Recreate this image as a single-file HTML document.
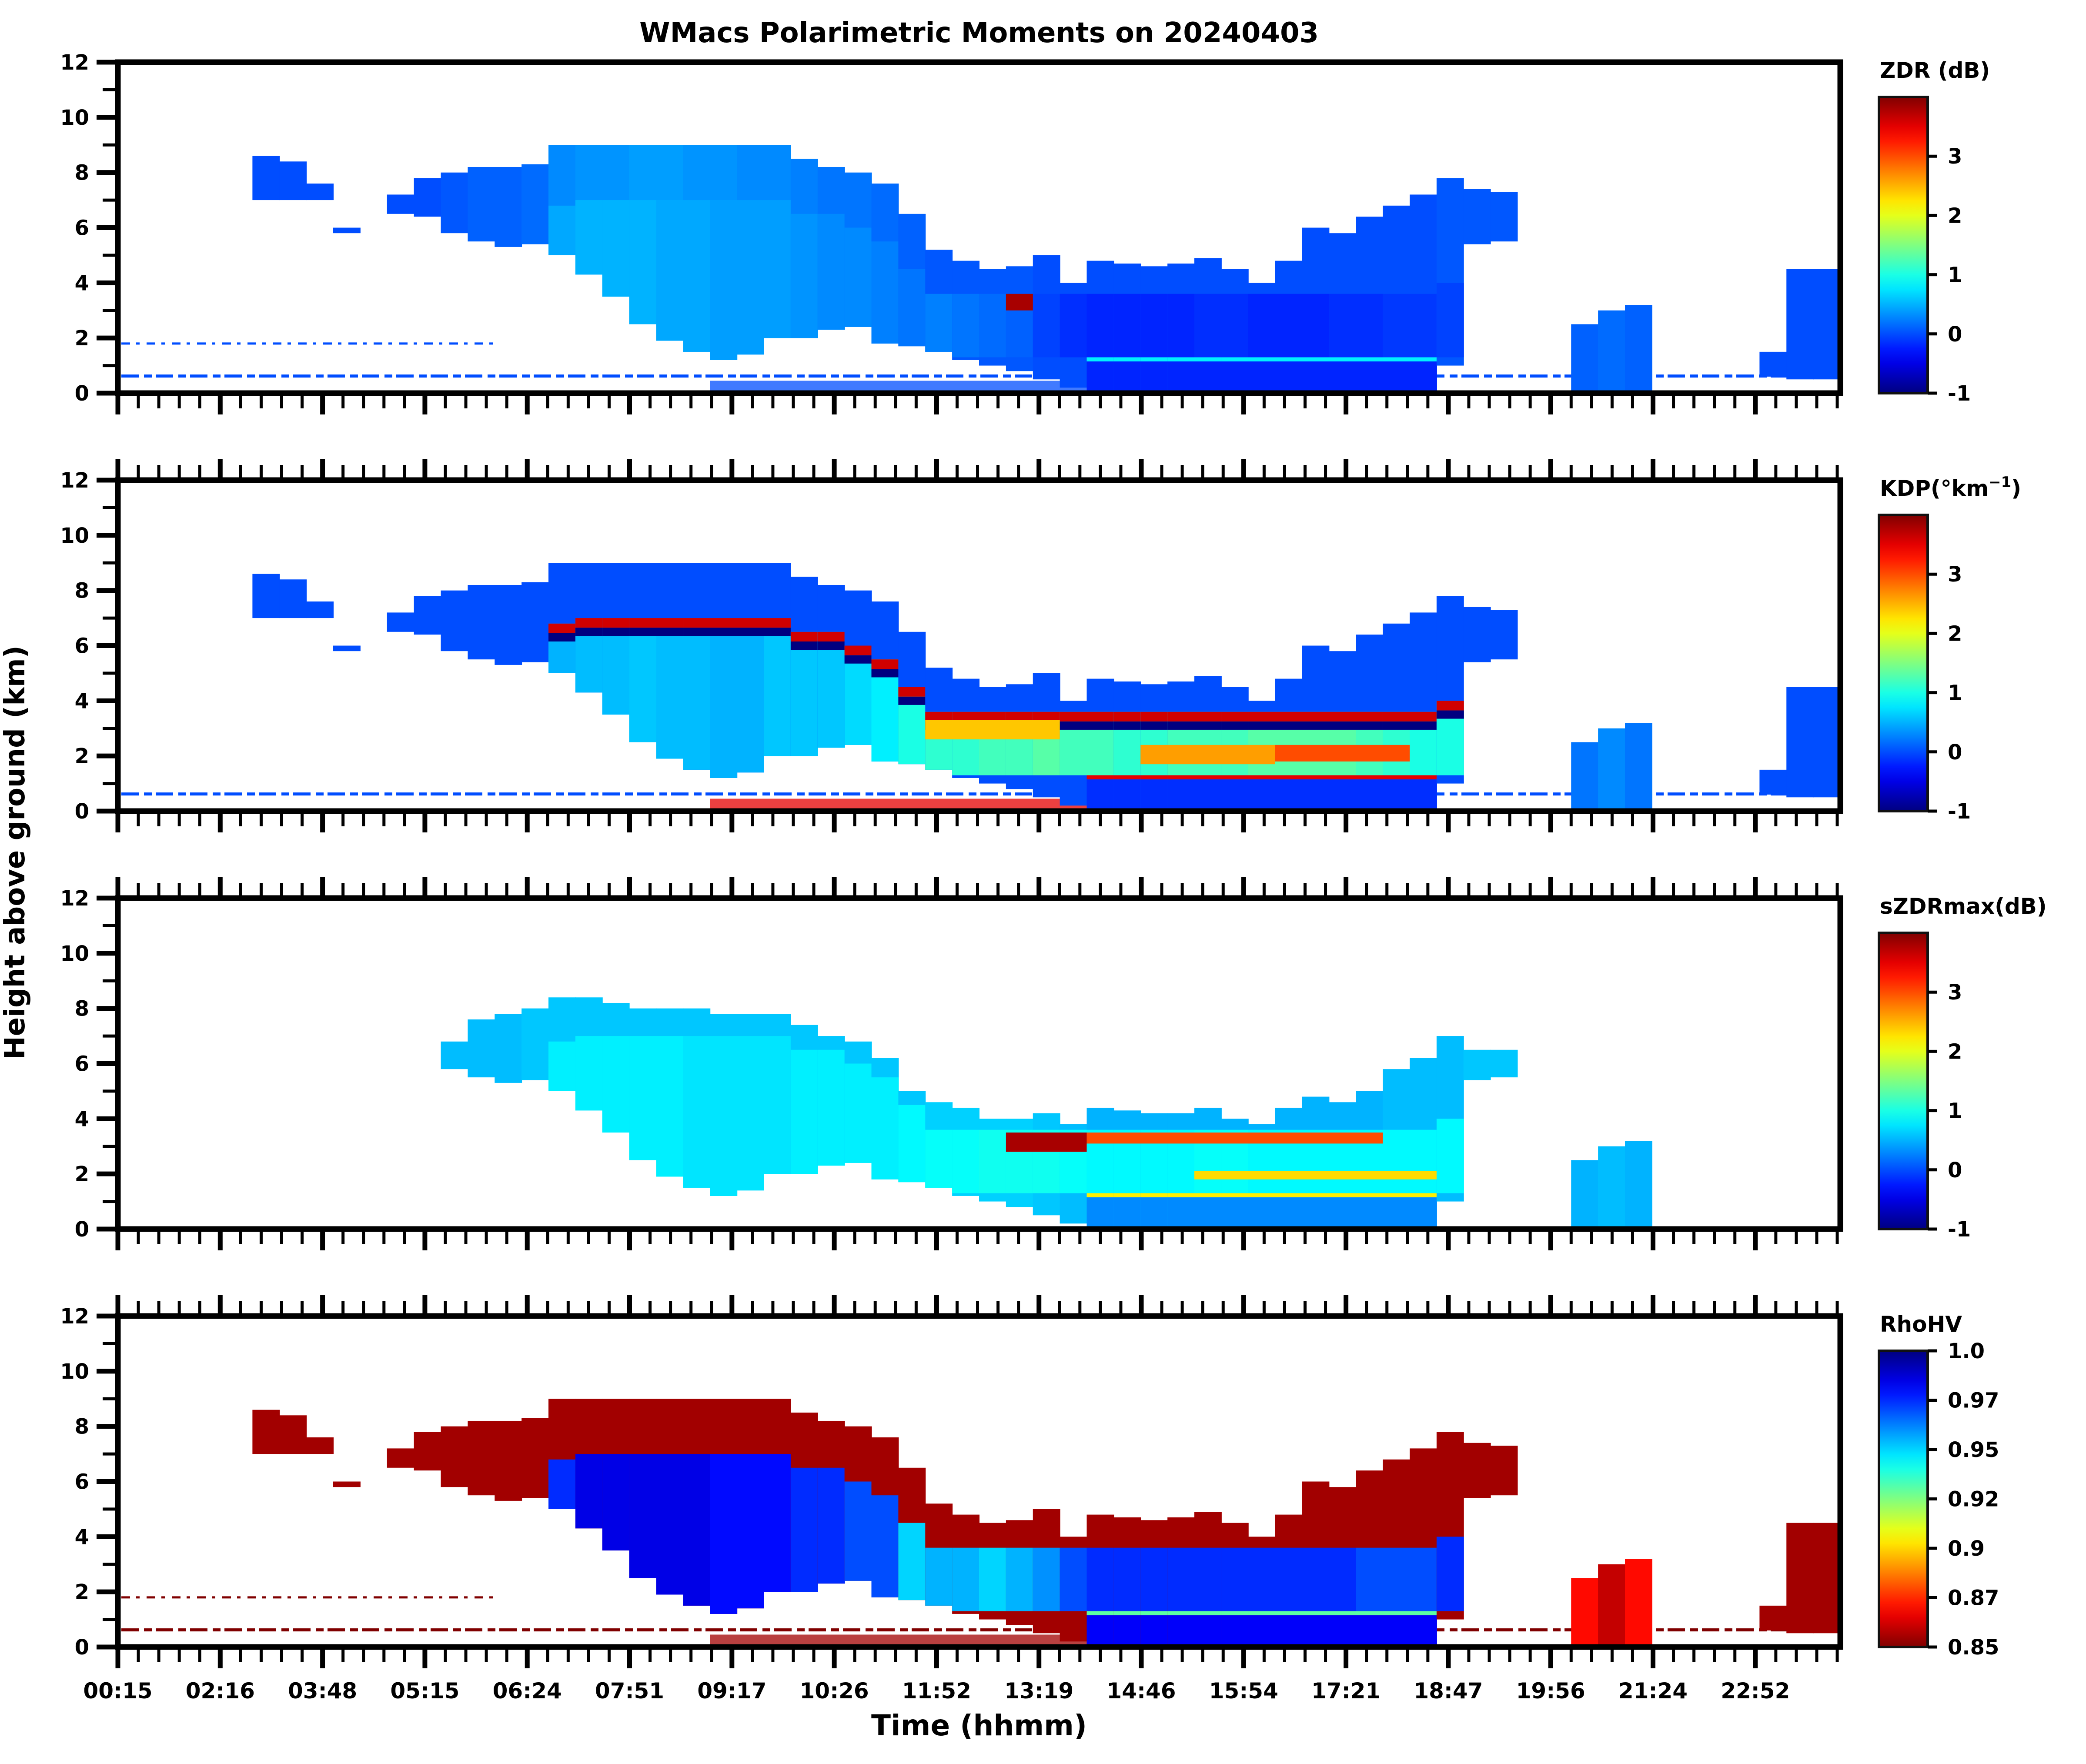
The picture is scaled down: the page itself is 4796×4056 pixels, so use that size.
<!DOCTYPE html>
<html><head><meta charset="utf-8">
<style>
html,body{margin:0;padding:0;background:#fff;}
svg{display:block;font-family:"DejaVu Sans","Liberation Sans",sans-serif;font-weight:bold;}
</style></head>
<body>
<svg id="fig" xmlns="http://www.w3.org/2000/svg" width="4796" height="4056" viewBox="0 0 4796 4056">
<text x="2251" y="97" font-size="64" text-anchor="middle">WMacs Polarimetric Moments on 20240403</text>
<text x="2251" y="3990" font-size="66" text-anchor="middle">Time (hhmm)</text>
<text transform="translate(56,1960) rotate(-90)" font-size="64" text-anchor="middle">Height above ground (km)</text>
</svg>
<script>
// ---- data ----
const timeLabels = ["00:15","02:16","03:48","05:15","06:24","07:51","09:17","10:26","11:52","13:19","14:46","15:54","17:21","18:47","19:56","21:24","22:52"];
const heightTicks = [0,2,4,6,8,10,12];
const cloudTop  = [0,0,0,0,0,8.6,8.4,7.6,6.0,0,7.2,7.8,8.0,8.2,8.2,8.3,9.0,9.0,9.0,9.0,9.0,9.0,9.0,9.0,9.0,8.5,8.2,8.0,7.6,6.5,5.2,4.8,4.5,4.6,5.0,4.0,4.8,4.7,4.6,4.7,4.9,4.5,4.0,4.8,6.0,5.8,6.4,6.8,7.2,7.8,7.4,7.3,0,0,2.5,3.0,3.2,0,0,0,0,1.5,4.5,4.5];
const cloudBase = [0,0,0,0,0,7.0,7.0,7.0,5.8,0,6.5,6.4,5.8,5.5,5.3,5.4,5.0,4.3,3.5,2.5,1.9,1.5,1.2,1.4,2.0,2.0,2.3,2.4,1.8,1.7,1.5,1.2,1.0,0.8,0.5,0.2,0,0,0,0,0,0,0,0,0,0,0,0,0,1.0,5.4,5.5,0,0,0,0,0,0,0,0,0,0.6,0.5,0.5];
const szdrTop   = [0,0,0,0,0,0,0,0,0,0,0,0,6.8,7.6,7.8,8.0,8.4,8.4,8.2,8.0,8.0,8.0,7.8,7.8,7.8,7.4,7.0,6.8,6.2,5.0,4.6,4.4,4.0,4.0,4.2,3.8,4.4,4.3,4.2,4.2,4.4,4.0,3.8,4.4,4.8,4.6,5.0,5.8,6.2,7.0,6.5,6.5,0,0,2.5,3.0,3.2,0,0,0,0,0,0,0];
const innerTop  = [0,0,0,0,0,0,0,0,0,0,0,0,0,0,0,0,6.8,7.0,7.0,7.0,7.0,7.0,7.0,7.0,7.0,6.5,6.5,6.0,5.5,4.5,3.6,3.6,3.6,3.6,3.6,3.6,3.6,3.6,3.6,3.6,3.6,3.6,3.6,3.6,3.6,3.6,3.6,3.6,3.6,4.0,0,0,0,0,0,0,0,0,0,0,0,0,0,0];
const innerBot  = [0,0,0,0,0,0,0,0,0,0,0,0,0,0,0,0,5.0,4.3,3.5,2.5,1.9,1.5,1.2,1.4,2.0,2.0,2.3,2.4,1.8,1.7,1.3,1.3,1.3,1.3,1.3,1.3,1.3,1.3,1.3,1.3,1.3,1.3,1.3,1.3,1.3,1.3,1.3,1.3,1.3,1.3,0,0,0,0,0,0,0,0,0,0,0,0,0,0];
const zdrBody  = [0,0,0,0,0,0.0,0.0,0.0,0.0,0,0.0,0.0,0.05,0.1,0.1,0.15,0.3,0.35,0.35,0.4,0.4,0.35,0.35,0.3,0.3,0.25,0.2,0.2,0.15,0.1,0.05,0.05,0.05,0.05,0.0,0.0,0.0,0.0,0.0,0.0,0.0,0.0,0.0,0.0,0.0,0.0,0.0,0.0,0.0,0.05,0.05,0.05,0,0,0.1,0.15,0.1,0,0,0,0,0.0,0.0,0.0];
const zdrInner = [0,0,0,0,0,0,0,0,0,0,0,0,0,0,0,0,0.45,0.5,0.5,0.5,0.45,0.45,0.4,0.4,0.4,0.35,0.3,0.3,0.25,0.2,0.25,0.2,0.15,0.1,-0.05,-0.15,-0.2,-0.2,-0.2,-0.2,-0.15,-0.15,-0.2,-0.2,-0.2,-0.15,-0.15,-0.1,-0.1,-0.05,0,0,0,0,0,0,0,0,0,0,0,0,0,0];
const kdpBody  = [0,0,0,0,0,0.0,0.0,0.0,0.0,0,0.0,0.0,0.0,0.0,0.0,0.0,0.0,0.0,0.0,0.0,0.0,0.0,0.0,0.0,0.0,0.0,0.0,0.0,0.0,0.0,0.0,0.0,0.0,0.0,0.0,0.0,0.0,0.0,0.0,0.0,0.0,0.0,0.0,0.0,0.0,0.0,0.0,0.0,0.0,0.0,0.0,0.0,0,0,0.2,0.3,0.2,0,0,0,0,0.0,0.0,0.0];
const kdpInner = [0,0,0,0,0,0,0,0,0,0,0,0,0,0,0,0,0.5,0.55,0.55,0.6,0.55,0.55,0.5,0.5,0.6,0.6,0.6,0.7,0.8,1.0,1.1,1.1,1.2,1.2,1.3,1.2,1.2,1.1,1.1,1.2,1.2,1.2,1.3,1.3,1.3,1.3,1.2,1.1,1.0,1.0,0,0,0,0,0,0,0,0,0,0,0,0,0,0];
const szdrBody = [0,0,0,0,0,0,0,0,0,0,0,0,0.55,0.55,0.55,0.6,0.6,0.6,0.6,0.6,0.6,0.6,0.6,0.6,0.6,0.6,0.6,0.6,0.6,0.6,0.65,0.65,0.65,0.65,0.6,0.55,0.5,0.5,0.5,0.5,0.5,0.5,0.5,0.5,0.5,0.5,0.5,0.55,0.55,0.55,0.6,0.6,0,0,0.5,0.55,0.5,0,0,0,0,0,0,0];
const szdrInner= [0,0,0,0,0,0,0,0,0,0,0,0,0,0,0,0,0.8,0.8,0.8,0.8,0.8,0.75,0.75,0.75,0.75,0.8,0.8,0.8,0.8,0.85,0.9,0.9,0.95,0.95,0.95,0.9,0.85,0.85,0.85,0.85,0.9,0.9,0.85,0.85,0.85,0.85,0.85,0.85,0.85,0.85,0,0,0,0,0,0,0,0,0,0,0,0,0,0];
const rhoBody  = [0,0,0,0,0,0.855,0.855,0.855,0.855,0,0.855,0.855,0.855,0.855,0.855,0.855,0.855,0.855,0.855,0.855,0.855,0.855,0.855,0.855,0.855,0.855,0.855,0.855,0.855,0.855,0.855,0.855,0.855,0.855,0.855,0.855,0.855,0.855,0.855,0.855,0.855,0.855,0.855,0.855,0.855,0.855,0.855,0.855,0.855,0.855,0.855,0.855,0,0,0.87,0.86,0.87,0,0,0,0,0.855,0.855,0.855];
const rhoInner = [0,0,0,0,0,0,0,0,0,0,0,0,0,0,0,0,0.975,0.985,0.985,0.985,0.985,0.985,0.98,0.98,0.98,0.975,0.975,0.97,0.97,0.95,0.955,0.955,0.95,0.955,0.96,0.97,0.975,0.975,0.975,0.975,0.975,0.975,0.975,0.975,0.975,0.975,0.97,0.97,0.97,0.975,0,0,0,0,0,0,0,0,0,0,0,0,0,0];
const lowVals  = [-0.2, -0.15, 0.3, 0.982];
const bandVals = [0.8, 3.5, 2.2, 0.93];
const noiseVals= [0.0, 0.0, null, 0.85];
const clutterCol0 = 22, clutterCol1 = 35;
const clutterVals = [0.0, 3.5, null, 0.855];
const hsPanel = [0,1,1,2,2,2,1];
const hsCol0  = [33,38,43,33,36,40,30];
const hsCol1  = [33,42,47,35,46,48,34];
const hsH0    = [3.0,1.7,1.8,2.8,3.1,1.8,2.6];
const hsH1    = [3.6,2.4,2.4,3.5,3.5,2.1,3.3];
const hsVal   = [3.8,2.6,3.0,3.8,3.0,2.3,2.4];

// ---- layout ----
const NS="http://www.w3.org/2000/svg";
const svg=document.getElementById('fig');
const L=271,R=4231,PH=761,tops=[143,1104,2065,3026];
const NC=cloudTop.length, CW=(R-L)/NC;
const ranges=[[-1,4],[-1,4],[-1,4],[0.85,1.0]];
const titles=["ZDR (dB)","KDP","sZDRmax(dB)","RhoHV"];
function jet(t){t=Math.max(0,Math.min(1,t));
 const r=Math.max(0,Math.min(1,1.5-Math.abs(4*t-3)));
 const g=Math.max(0,Math.min(1,1.5-Math.abs(4*t-2)));
 const b=Math.max(0,Math.min(1,1.5-Math.abs(4*t-1)));
 return `rgb(${Math.round(r*255)},${Math.round(g*255)},${Math.round(b*255)})`;}
function color(p,v){const [a,b]=ranges[p];let t=(v-a)/(b-a);if(p===3)t=1-t;return jet(t);}
function el(tag,attrs,parent){const e=document.createElementNS(NS,tag);for(const k in attrs)e.setAttribute(k,attrs[k]);(parent||svg).appendChild(e);return e;}
function xc(i){return L+i*CW;}
const bodies=[zdrBody,kdpBody,szdrBody,rhoBody];
const inners=[zdrInner,kdpInner,szdrInner,rhoInner];

for(let p=0;p<4;p++){
 const top=tops[p],bot=top+PH;
 const yk=h=>bot-h*PH/12;
 const g=el('g',{});
 
 
 const tp=(p===2)?szdrTop:cloudTop;
 if(noiseVals[p]!==null){
  const nl=el('line',{x1:L+8,x2:R-8,y1:yk(0.62),y2:yk(0.62),stroke:color(p,noiseVals[p]),'stroke-width':7,'stroke-dasharray':'40 12 18 9'},g);
  
  
  if(p!==1){const nl2=el('line',{x1:L+8,x2:xc(14),y1:yk(1.8),y2:yk(1.8),stroke:color(p,noiseVals[p]),'stroke-width':5,'stroke-dasharray':'20 14 8 16'},g);
  
  }
 }
 if(clutterVals[p]!==null){
  const c=el('rect',{x:xc(clutterCol0),y:yk(0.45),width:(clutterCol1-clutterCol0+1)*CW,height:0.45*PH/12,fill:color(p,clutterVals[p]),opacity:0.75},g);
  
  
 }
 for(let i=0;i<NC;i++){
  if(!tp[i])continue;
  const x=xc(i),w=CW+1;
  const base=cloudBase[i];
  const r=el('rect',{x:x,y:yk(tp[i]),width:w,height:(tp[i]-base)*PH/12,fill:color(p,bodies[p][i])},g);
  
  
  if(innerTop[i]&&inners[p][i]){
   const ib=Math.max(innerBot[i],base);
   const r2=el('rect',{x:x,y:yk(innerTop[i]),width:w,height:(innerTop[i]-ib)*PH/12,fill:color(p,inners[p][i])},g);
   
   
   if(p===1){
    const e1=el('rect',{x:x,y:yk(innerTop[i]),width:w,height:0.35*PH/12,fill:color(p,3.6)},g);
    
    
    const e2=el('rect',{x:x,y:yk(innerTop[i]-0.35),width:w,height:0.3*PH/12,fill:color(p,-1)},g);
    
    
   }
  }
  if(base===0 && i>=35 && i<=48){
   const lo=el('rect',{x:x,y:yk(1.15),width:w,height:1.15*PH/12,fill:color(p,lowVals[p])},g);
   
   
   const bd=el('rect',{x:x,y:yk(1.3),width:w,height:0.15*PH/12,fill:color(p,bandVals[p])},g);
   
   
  }
 }
 for(let k=0;k<hsPanel.length;k++){
  if(hsPanel[k]!==p)continue;
  const h=el('rect',{x:xc(hsCol0[k]),y:yk(hsH1[k]),width:(hsCol1[k]-hsCol0[k]+1)*CW,height:(hsH1[k]-hsH0[k])*PH/12,fill:color(p,hsVal[k])},g);
  
  
 }
 const fr=el('rect',{x:L,y:top,width:R-L,height:PH,fill:'none',stroke:'#000','stroke-width':13},g);
 
 
 for(let h=0;h<=12;h++){
  const y=yk(h),maj=h%2===0;
  el('line',{x1:maj?222:236,x2:L,y1:y,y2:y,stroke:'#000','stroke-width':maj?11:7},g);
  if(maj){const t=el('text',{x:205,y:y+17,'font-size':48,'text-anchor':'end'},g);t.textContent=h;
   
   }
 }
 const nMinor=Math.floor((R-L)/47.06+0.01);
 for(let k=0;k<=nMinor;k++){
  const x=L+k*47.06,maj=k%5===0;
  el('line',{x1:x,x2:x,y1:bot,y2:bot+(maj?49:35),stroke:'#000','stroke-width':maj?11:7},g);
  if(p>0)el('line',{x1:x,x2:x,y1:top,y2:top-(maj?48:35),stroke:'#000','stroke-width':maj?11:7},g);
  if(p===3&&maj){const t=el('text',{x:x,y:3905,'font-size':50,'text-anchor':'middle'},g);t.textContent=timeLabels[k/5];
   
   }
 }
 const cbT=top+80,cbB=bot,cbL=4320,cbR=4432;
 const gid='grad'+p;
 const defs=el('defs',{},g);
 const lg=el('linearGradient',{id:gid,x1:0,y1:1,x2:0,y2:0},defs);
 for(let s=0;s<=20;s++){el('stop',{offset:s/20,'stop-color':jet(p===3?1-s/20:s/20)},lg);}
 const cb=el('rect',{x:cbL,y:cbT,width:cbR-cbL,height:cbB-cbT,fill:`url(#${gid})`,stroke:'#111','stroke-width':6},g);
 
 
 const ttl=el('text',{x:4322,y:top+36,'font-size':50},g);
 
 
 if(p===1){ttl.textContent='KDP(°km';const s=el('tspan',{dy:-20,'font-size':34},ttl);s.textContent='−1';const s2=el('tspan',{dy:20},ttl);s2.textContent=')';}
 else ttl.textContent=titles[p];
 let ticks,labels;
 if(p<3){ticks=[-1,0,1,2,3];labels=ticks.map(String);}
 else{ticks=[0,1,2,3,4,5,6].map(k=>0.85+k*0.025);labels=["0.85","0.87","0.9","0.92","0.95","0.97","1.0"];}
 const [a,b]=ranges[p];
 ticks.forEach((v,k)=>{const y=cbB-(v-a)/(b-a)*(cbB-cbT);
  el('line',{x1:cbR,x2:4454,y1:y,y2:y,stroke:'#000','stroke-width':7},g);
  const t=el('text',{x:4478,y:y+17,'font-size':48},g);t.textContent=labels[k];
  
  });
}
</script>
</body></html>
